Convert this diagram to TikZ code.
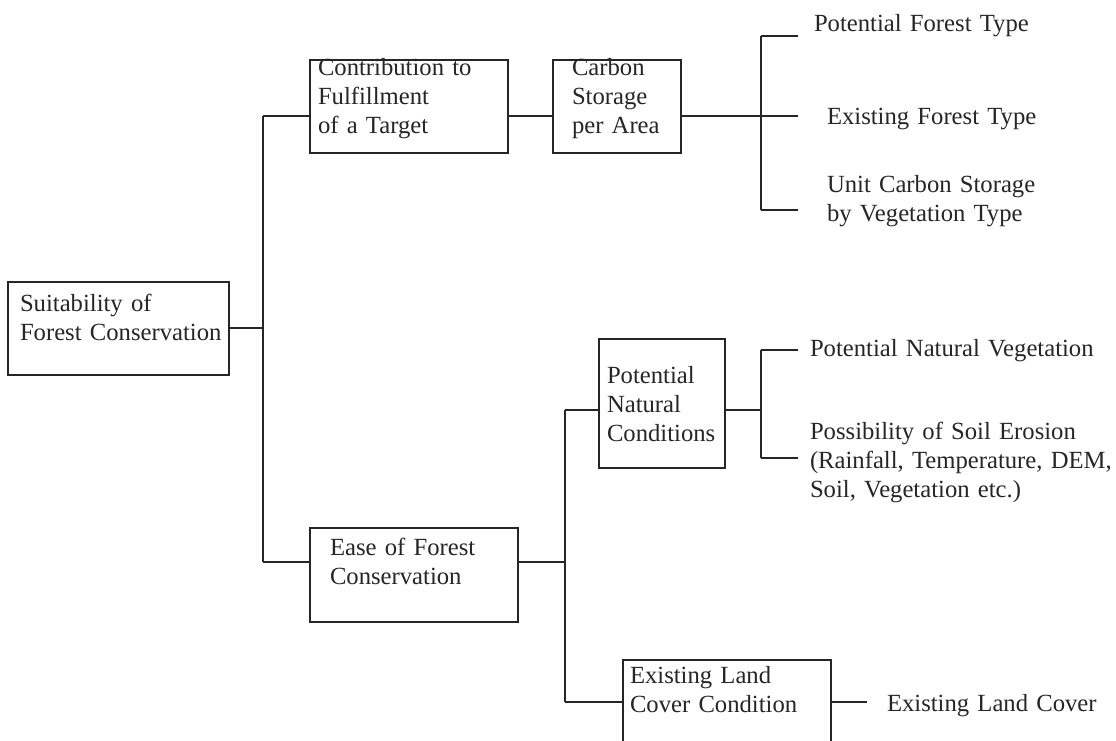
\documentclass[tikz,border=0pt]{standalone}
\usepackage{fontspec}
\setmainfont{Liberation Serif}
\usetikzlibrary{fit}
\definecolor{ink}{gray}{0.15}
\tikzset{
  x=0.75pt, y=-0.75pt,
  box/.style={draw=ink, line width=1.4pt, inner sep=0pt, outer sep=0pt, rectangle},
  conn/.style={draw=ink, line width=1.4pt},
  txt/.style={inner sep=0pt, outer sep=0pt, text=ink, anchor=base west, align=left,
    text width=330pt, font=\fontsize{18.5}{21.75}\selectfont},
}
\begin{document}
\begin{tikzpicture}
\useasboundingbox[fill=white] (0,0) rectangle (1116,741);
% boxes
\node[box, fit={(8,282) (229,375)}] (suit) {};
\node[box, fit={(310,60) (508,153)}] (contrib) {};
\node[box, fit={(553,60) (681,153)}] (carbon) {};
\node[box, fit={(310,528) (518,622)}] (ease) {};
\node[box, fit={(599,339) (725,468)}] (pnc) {};
\node[box, fit={(623,660) (831,748)}] (elc) {};
% box texts
\node[txt] (suitT) at (20,311) {Suitability of\\Forest Conservation};
\node[txt] (contribT) at (318,76) {Contribution to\\Fulfillment\\of a Target};
\node[txt] (carbonT) at (572,76) {Carbon\\Storage\\per Area};
\node[txt] (easeT) at (330,555) {Ease of Forest\\Conservation};
\node[txt] (pncT) at (607,383) {Potential\\Natural\\Conditions};
\node[txt] (elcT) at (630,683) {Existing Land\\Cover Condition};
% leaf labels
\node[txt] (pft) at (814,32) {Potential Forest Type};
\node[txt] (eft) at (827,125) {Existing Forest Type};
\node[txt] (ucs) at (827,193) {Unit Carbon Storage\\by Vegetation Type};
\node[txt] (pnv) at (810,356) {Potential Natural Vegetation};
\node[txt] (pse) at (810,439) {Possibility of Soil Erosion\\(Rainfall, Temperature, DEM,\\Soil, Vegetation etc.)};
\node[txt] (elcL) at (887,711) {Existing Land Cover};
% junction coordinates
\coordinate (v1t) at (263,116);
\coordinate (v1b) at (263,562);
\coordinate (v1m) at (263,328);
\coordinate (b1t) at (761,36);
\coordinate (b1m) at (761,116);
\coordinate (b1b) at (761,210);
\coordinate (t1a) at (798,36);
\coordinate (t1b) at (798,116);
\coordinate (t1c) at (798,210);
\coordinate (v2t) at (565,410);
\coordinate (v2m) at (565,562);
\coordinate (v2b) at (565,702);
\coordinate (b2t) at (761,350);
\coordinate (b2m) at (761,410);
\coordinate (b2b) at (761,458);
\coordinate (t2a) at (798,350);
\coordinate (t2b) at (798,458);
\coordinate (t3) at (867,702);
% connectors
\draw[conn] (v1m -| suit.east) -- (v1m);
\draw[conn] (v1t) -- (v1b);
\draw[conn] (v1t) -- (v1t -| contrib.west);
\draw[conn] (v1b) -- (v1b -| ease.west);
\draw[conn] (v1t -| contrib.east) -- (v1t -| carbon.west);
\draw[conn] (b1m -| carbon.east) -- (b1m);
\draw[conn] (b1t) -- (b1b);
\draw[conn] (b1t) -- (t1a);
\draw[conn] (b1m) -- (t1b);
\draw[conn] (b1b) -- (t1c);
\draw[conn] (v2m -| ease.east) -- (v2m);
\draw[conn] (v2t) -- (v2b);
\draw[conn] (v2t) -- (v2t -| pnc.west);
\draw[conn] (v2b) -- (v2b -| elc.west);
\draw[conn] (b2m -| pnc.east) -- (b2m);
\draw[conn] (b2t) -- (b2b);
\draw[conn] (b2t) -- (t2a);
\draw[conn] (b2b) -- (t2b);
\draw[conn] (t3 -| elc.east) -- (t3);
\end{tikzpicture}
\end{document}
